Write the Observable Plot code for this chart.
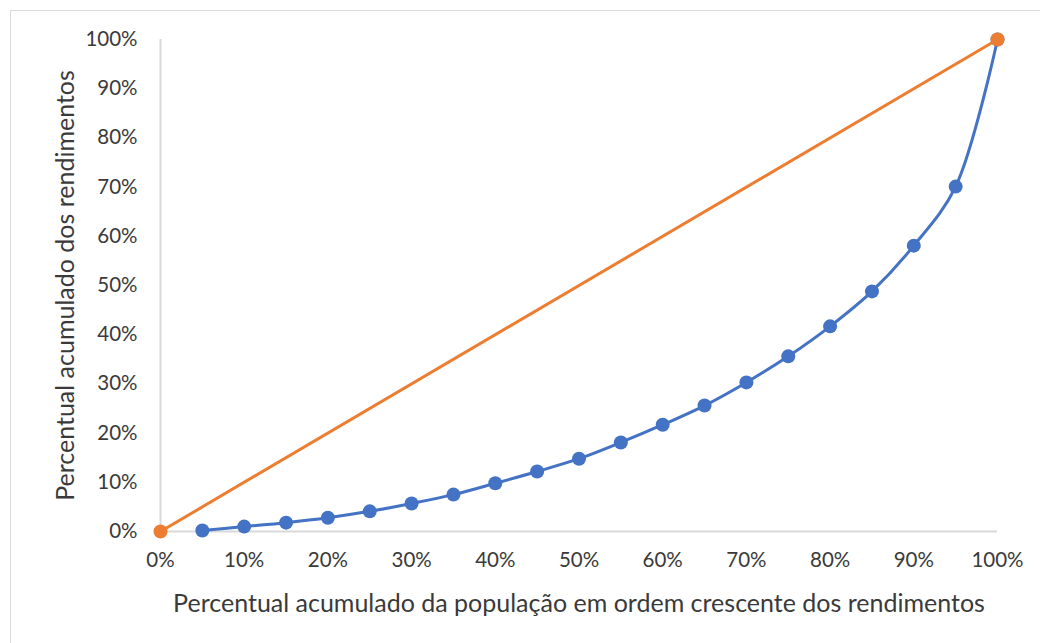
<!DOCTYPE html>
<html><head><meta charset="utf-8">
<script src="https://cdn.jsdelivr.net/npm/d3@7"></script>
<script src="https://cdn.jsdelivr.net/npm/@observablehq/plot@0.6"></script>
<style>
html,body{margin:0;padding:0;background:#fff;}
#wrap{position:relative;width:1040px;height:643px;overflow:hidden;}
#frame{position:absolute;left:10px;top:10px;width:1040px;height:640px;border:1px solid #d9d9d9;box-sizing:border-box;}
#chart{position:absolute;left:0;top:0;}
</style></head>
<body><div id="wrap"><div id="frame"></div><div id="chart"></div></div>
<script>
const populacao = [0.05,0.10,0.15,0.20,0.25,0.30,0.35,0.40,0.45,0.50,0.55,0.60,0.65,0.70,0.75,0.80,0.85,0.90,0.95,1.00];
const rendimentos = [0.002,0.010,0.018,0.028,0.041,0.057,0.075,0.098,0.122,0.148,0.181,0.217,0.256,0.303,0.356,0.417,0.488,0.581,0.701,1.00];
const igualdadeX = [0, 1];
const igualdadeY = [0, 1];
const ticks = [0,0.1,0.2,0.3,0.4,0.5,0.6,0.7,0.8,0.9,1.0];
const xTitle = "Percentual acumulado da população em ordem crescente dos rendimentos";
const yTitle = "Percentual acumulado dos rendimentos";

const lorenz = populacao.map((p,i)=>({x:p,y:rendimentos[i]}));
const igual = igualdadeX.map((p,i)=>({x:p,y:igualdadeY[i]}));
const pct = d => Math.round(d*100) + "%";

const plot = Plot.plot({
  width: 1040, height: 643,
  marginLeft: 160, marginRight: 43, marginTop: 39, marginBottom: 112,
  style: {fontFamily: "Lato, sans-serif", fontSize: "20.5px", color: "#3a3a3a", background: "transparent"},
  x: {domain: [0,1], ticks: ticks, tickFormat: pct, tickSize: 0, tickPadding: 21, label: null},
  y: {domain: [0,1], ticks: ticks, tickFormat: pct, tickSize: 0, tickPadding: 23, label: null},
  marks: [
    Plot.ruleY([0], {stroke: "#d9d9d9", strokeWidth: 2}),
    Plot.ruleX([0], {stroke: "#d9d9d9", strokeWidth: 2}),
    Plot.line(igual, {x: "x", y: "y", stroke: "#ED7D31", strokeWidth: 3}),
    Plot.line(lorenz, {x: "x", y: "y", stroke: "#4472C4", strokeWidth: 3, curve: "catmull-rom"}),
    Plot.dot(lorenz, {x: "x", y: "y", r: 7, fill: "#4472C4"}),
    Plot.dot(igual, {x: "x", y: "y", r: 7, fill: "#ED7D31"}),
    Plot.text([xTitle], {frameAnchor: "bottom", dy: 72, lineAnchor: "middle", fontSize: 25, fill: "#3a3a3a"}),
    Plot.text([yTitle], {frameAnchor: "left", dx: -95, rotate: -90, lineAnchor: "middle", textAnchor: "middle", fontSize: 25, fill: "#3a3a3a"})
  ]
});
document.getElementById("chart").appendChild(plot);
</script></body></html>
